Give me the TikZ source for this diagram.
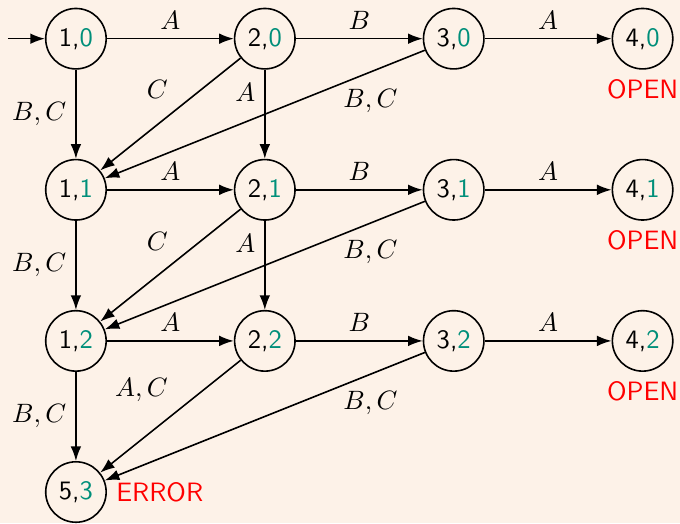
\documentclass[tikz,border=0pt]{standalone}
\usetikzlibrary{arrows.meta}
\definecolor{bg}{HTML}{FDF2E8}
\definecolor{idx}{HTML}{008F7A}
\newcommand{\st}[2]{#1,\textcolor{idx}{#2}}
\begin{document}
\begin{tikzpicture}[
  state/.style={circle, draw, semithick, minimum size=0.8cm, inner sep=0pt, font=\sffamily},
  tr/.style={-{Latex[length=5.5pt,width=4pt]}, semithick},
  flag/.style={text=red, font=\sffamily}]
\fill[bg] (-1.005,0.512) rectangle (7.995,-6.414);
\useasboundingbox (-1.005,0.512) rectangle (7.995,-6.414);
% states
\node[state] (s10) at (0,0) {\st{1}{0}};
\node[state] (s20) at (2.5,0) {\st{2}{0}};
\node[state] (s30) at (5,0) {\st{3}{0}};
\node[state] (s40) at (7.5,0) {\st{4}{0}};
\node[state] (s11) at (0,-2) {\st{1}{1}};
\node[state] (s21) at (2.5,-2) {\st{2}{1}};
\node[state] (s31) at (5,-2) {\st{3}{1}};
\node[state] (s41) at (7.5,-2) {\st{4}{1}};
\node[state] (s12) at (0,-4) {\st{1}{2}};
\node[state] (s22) at (2.5,-4) {\st{2}{2}};
\node[state] (s32) at (5,-4) {\st{3}{2}};
\node[state] (s42) at (7.5,-4) {\st{4}{2}};
\node[state] (s53) at (0,-6) {\st{5}{3}};
\coordinate (init) at (-0.9,0);
\node[flag, below] at (s40.south) {OPEN};
\node[flag, below] at (s41.south) {OPEN};
\node[flag, below] at (s42.south) {OPEN};
\node[flag, right] at (s53.east) {ERROR};
% transitions
\draw[tr] (init) -- (s10);
\draw[tr] (s10) -- node[above] {$A$} (s20);
\draw[tr] (s20) -- node[above] {$B$} (s30);
\draw[tr] (s30) -- node[above] {$A$} (s40);
\draw[tr] (s10) -- node[left] {$B,C$} (s11);
\draw[tr] (s20) -- node[above left, pos=0.45] {$C$} (s11);
\draw[tr] (s20) -- node[left, pos=0.25] {$A$} (s21);
\draw[tr] (s30) -- node[below=3pt, pos=0.17] {$B,C$} (s11);
\draw[tr] (s11) -- node[above] {$A$} (s21);
\draw[tr] (s21) -- node[above] {$B$} (s31);
\draw[tr] (s31) -- node[above] {$A$} (s41);
\draw[tr] (s11) -- node[left] {$B,C$} (s12);
\draw[tr] (s21) -- node[above left, pos=0.45] {$C$} (s12);
\draw[tr] (s21) -- node[left, pos=0.25] {$A$} (s22);
\draw[tr] (s31) -- node[below=3pt, pos=0.17] {$B,C$} (s12);
\draw[tr] (s12) -- node[above] {$A$} (s22);
\draw[tr] (s22) -- node[above] {$B$} (s32);
\draw[tr] (s32) -- node[above] {$A$} (s42);
\draw[tr] (s12) -- node[left] {$B,C$} (s53);
\draw[tr] (s22) -- node[above left, pos=0.45] {$A,C$} (s53);
\draw[tr] (s32) -- node[below=3pt, pos=0.17] {$B,C$} (s53);
\end{tikzpicture}
\end{document}
